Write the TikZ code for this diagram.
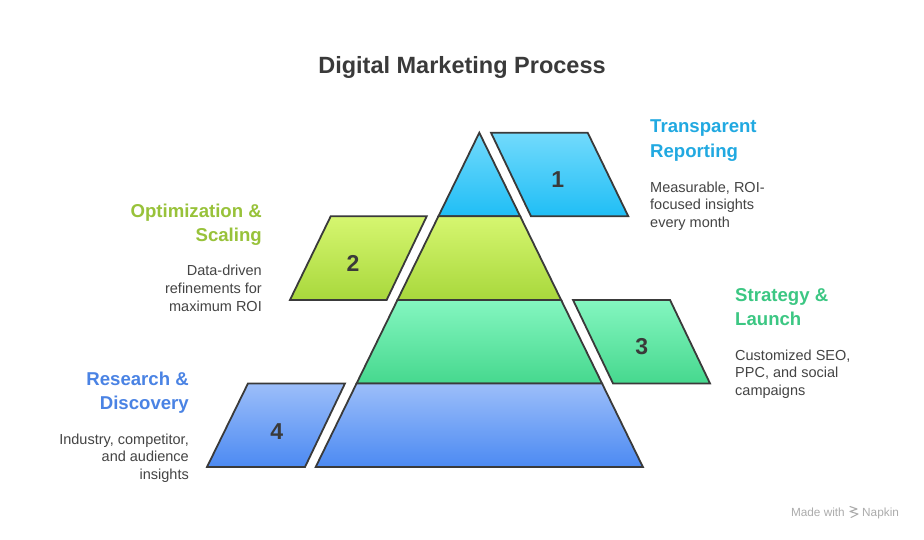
\documentclass[tikz,border=0pt]{standalone}
\usepackage{fontspec}
\setmainfont{Liberation Sans}
\usepackage{xcolor}
\definecolor{inkgray}{RGB}{58,58,58}
\definecolor{textgray}{RGB}{68,68,68}
\definecolor{markgray}{RGB}{172,172,172}
\definecolor{cyantop}{RGB}{114,218,252}
\definecolor{cyanbot}{RGB}{32,190,245}
\definecolor{limetop}{RGB}{214,246,112}
\definecolor{limebot}{RGB}{168,216,60}
\definecolor{minttop}{RGB}{132,246,192}
\definecolor{mintbot}{RGB}{70,216,142}
\definecolor{skytop}{RGB}{156,190,250}
\definecolor{skybot}{RGB}{76,138,242}
\definecolor{cyanhead}{RGB}{33,169,225}
\definecolor{limehead}{RGB}{152,194,58}
\definecolor{minthead}{RGB}{60,199,131}
\definecolor{skyhead}{RGB}{74,131,228}

\begin{document}
\begin{tikzpicture}[x=1pt,y=-1pt,
	piece/.style={draw=inkgray,line width=1.8pt},
	num/.style={inner sep=0pt,text=inkgray,font=\fontsize{23}{23}\selectfont\bfseries},
	headleft/.style={anchor=base west,align=left,inner sep=0pt,font=\fontsize{18.6}{24.5}\selectfont\bfseries},
	headright/.style={headleft,anchor=base east,align=right},
	descleft/.style={anchor=base west,align=left,inner sep=0pt,text=textgray,font=\fontsize{14.5}{17.6}\selectfont},
	descright/.style={descleft,anchor=base east,align=right},
	napkinmark/.style={inner sep=0pt,text=markgray,font=\fontsize{11.8}{12}\selectfont}]
	\fill[white] (0,0) rectangle (924,540);
	\useasboundingbox (0,0) rectangle (924,540);

	% title
	\node[anchor=base,inner sep=0pt,text=inkgray,font=\fontsize{23.5}{26}\selectfont\bfseries] (title) at (462,74) {Digital Marketing Process};

	% pyramid tiers
	\draw[piece,top color=cyantop,bottom color=cyanbot] (479.3,132.7) -- (520.2,216.3) -- (438.4,216.3) -- cycle;
	\draw[piece,top color=limetop,bottom color=limebot] (438.4,216.3) -- (520.2,216.3) -- (561.1,299.9) -- (397.5,299.9) -- cycle;
	\draw[piece,top color=minttop,bottom color=mintbot] (397.5,299.9) -- (561.1,299.9) -- (602.0,383.4) -- (356.6,383.4) -- cycle;
	\draw[piece,top color=skytop,bottom color=skybot] (356.6,383.4) -- (602.0,383.4) -- (642.9,467) -- (315.7,467) -- cycle;

	% side plates
	\draw[piece,top color=cyantop,bottom color=cyanbot] (491,132.7) -- (587.7,132.7) -- (628.3,216.3) -- (531,216.3) -- cycle;
	\draw[piece,top color=limetop,bottom color=limebot] (330.7,216.3) -- (426.7,216.3) -- (386.7,299.9) -- (290,299.9) -- cycle;
	\draw[piece,top color=minttop,bottom color=mintbot] (573,299.9) -- (670,299.9) -- (710,383.4) -- (613,383.4) -- cycle;
	\draw[piece,top color=skytop,bottom color=skybot] (248,383.4) -- (345,383.4) -- (305,467) -- (207,467) -- cycle;

	\node[num] (num1) at (557.7,180) {1};
	\node[num] (num2) at (353,263.5) {2};
	\node[num] (num3) at (641.7,347) {3};
	\node[num] (num4) at (276.7,431.7) {4};

	% labels (base = last line)
	\node[headleft,text=cyanhead] (reporthead) at (650,157.2) {Transparent\\Reporting};
	\node[descleft] (reportdesc) at (650,227.5) {Measurable, ROI-\\focused insights\\every month};

	\node[headright,text=limehead] (scalehead) at (262,241.8) {Optimization \&\\Scaling};
	\node[descright] (scaledesc) at (262,311.2) {Data-driven\\refinements for\\maximum ROI};

	\node[headleft,text=minthead] (launchhead) at (735,325.5) {Strategy \&\\Launch};
	\node[descleft] (launchdesc) at (735,395.2) {Customized SEO,\\PPC, and social\\campaigns};

	\node[headright,text=skyhead] (researchhead) at (189,409.5) {Research \&\\Discovery};
	\node[descright] (researchdesc) at (189,479.2) {Industry, competitor,\\and audience\\insights};

	% watermark
	\node[napkinmark,anchor=base east] (madewith) at (845,516) {Made with};
	\node[napkinmark,anchor=base west] (napkin) at (862,516) {Napkin};
	\draw[markgray,line width=1.1pt,line cap=round,line join=round] (850,506.5) -- (857,509) -- (850,511.5) -- (858,514) -- (851,517.5);
\end{tikzpicture}
\end{document}
